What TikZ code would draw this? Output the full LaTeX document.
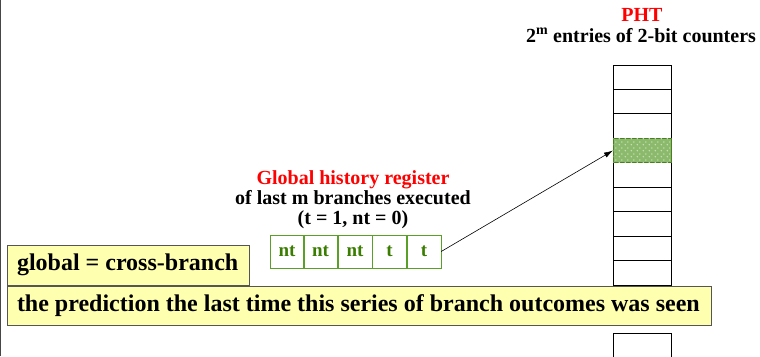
\documentclass[tikz,border=0pt]{standalone}
\usepackage{fontspec}
\setmainfont{Liberation Serif}
\usetikzlibrary{arrows.meta,patterns.meta}
\definecolor{hdrred}{RGB}{255,0,0}
\definecolor{regtext}{RGB}{58,125,0}
\definecolor{regline}{RGB}{90,160,40}
\definecolor{notefill}{RGB}{255,255,176}
\definecolor{noteline}{RGB}{85,85,85}
\definecolor{hotfill}{RGB}{140,186,108}
\definecolor{edgegray}{RGB}{70,70,70}

\tikzdeclarepattern{name=speckle, type=uncolored,
  bottom left={(0pt,0pt)}, top right={(6pt,6pt)}, tile size={(6pt,6pt)},
  code={\fill (1.5pt,1.5pt) circle (0.9pt); \fill (4.5pt,4.5pt) circle (0.9pt);}}

\begin{document}
\begin{tikzpicture}[x=1pt,y=-1pt,
  slot/.style={draw=black, line width=0.9pt, minimum width=58pt, minimum height=24.44pt,
               inner sep=0pt, outer sep=0pt, anchor=north west},
  hotslot/.style={slot, fill=hotfill, draw=regline!80!black},
  bit/.style={draw=regline, line width=0.9pt, text=regtext, minimum width=34.2pt,
              minimum height=33pt, inner sep=0pt, outer sep=0pt, anchor=north west,
              font=\fontsize{19}{19}\selectfont\bfseries},
  note/.style={draw=noteline, fill=notefill, line width=1pt, inner xsep=10pt, inner ysep=0pt,
               outer sep=0pt, anchor=north west,
               font=\fontsize{24}{24}\selectfont\bfseries},
  caption/.style={font=\fontsize{20}{20}\selectfont\bfseries, inner sep=0pt, align=center}
]
\useasboundingbox (0,0) rectangle (760,356);
\clip (0,0) rectangle (760,356);

% left page edge
\draw[edgegray, line width=1.3pt] (0.7,0) -- (0.7,356);

% pattern history table, upper part
\foreach \i in {0,1,2,4,5,6,7,8}{
  \node[slot] (pht\i) at (613,{65+\i*24.44}) {};
}
\node[hotslot] (pht3) at (613,{65+3*24.44}) {};
\path[pattern=speckle, pattern color=white!55!hotfill]
  ([shift={(0.6pt,-0.6pt)}]pht3.north west) rectangle ([shift={(-0.6pt,0.6pt)}]pht3.south east);
% pattern history table, part below the notes
\node[slot, minimum height=30pt] (pht9) at (613,333) {};

% table caption
\node[caption, text=hdrred] (phttitle) at (642,15) {PHT};
\node[caption] (phtsub) at (641,35.5) {2\textsuperscript{m} entries of 2-bit counters};

% global history register
\node[caption] (ghr) at (353,200) {\textcolor{hdrred}{Global history register}\\of last m branches executed\\(t = 1, nt = 0)};
\node[bit] (b1) at (270,235) {\raisebox{-2pt}{nt}};
\node[bit] (b2) at (303.5,235) {\raisebox{-2pt}{nt}};
\node[bit] (b3) at (338,235) {\raisebox{-2pt}{nt}};
\node[bit] (b4) at (372.5,235) {\raisebox{-2pt}{t}};
\node[bit] (b5) at (407,235) {\raisebox{-2pt}{t}};

% index arrow
\draw[-{Latex[length=9pt,width=5.5pt]}, line width=0.6pt] (b5.east) -- (pht3.west);

% notes
\node[note, minimum height=40pt] (n1) at (7,245) {\raisebox{-3pt}{\makebox[222pt][l]{global = cross-branch}}};
\node[note, minimum height=39pt] (n2) at (7,286) {\raisebox{-2pt}{\makebox[684pt][l]{the prediction the last time this series of branch outcomes was seen}}};
\end{tikzpicture}
\end{document}
